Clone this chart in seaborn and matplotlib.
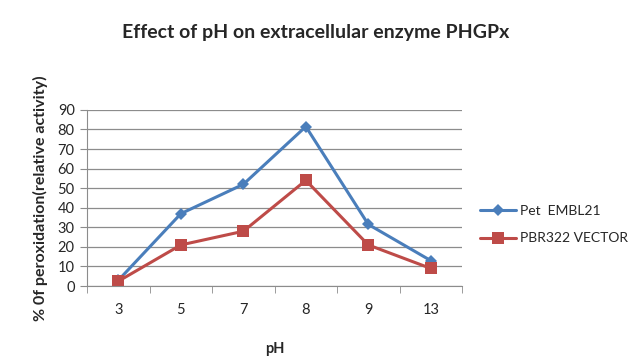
import pandas as pd
import numpy as np
import matplotlib.pyplot as plt
import seaborn as sns
from matplotlib.lines import Line2D

# data
ph = ['3', '5', '7', '8', '9', '13']
pet_embl21 = [3, 37, 52, 81.5, 31.5, 13]
pbr322 = [2.5, 21, 28, 54, 21, 9]
series_names = ['Pet  EMBL21', 'PBR322 VECTOR']

df = pd.DataFrame({
    'pH': ph * 2,
    'val': pet_embl21 + pbr322,
    'series': [series_names[0]] * len(ph) + [series_names[1]] * len(ph),
})

sns.set_style('white')
plt.rcParams['font.family'] = ['Lato', 'DejaVu Sans']

fig = plt.figure(figsize=(6.32, 3.58), dpi=100)
ax = fig.add_axes([0.138, 0.201, 0.593, 0.492])

sns.lineplot(data=df, x='pH', y='val', hue='series', style='series',
             markers=['D', 's'], dashes=False, sort=False,
             palette=['#4a7ebb', '#be4b48'], linewidth=2.2,
             markeredgewidth=0, ax=ax, legend=False)
# marker sizes differ per series
ax.lines[0].set_markersize(6.5)
ax.lines[1].set_markersize(8.5)

ax.set_xlim(-0.5, 5.5)
ax.set_ylim(0, 90)
ax.set_yticks(np.arange(0, 91, 10))
ax.yaxis.grid(True, color='#8c8c8c', linewidth=0.9)
ax.set_axisbelow(True)

for s in ['top', 'right']:
    ax.spines[s].set_visible(False)
ax.spines['left'].set_color('#8c8c8c')
ax.spines['bottom'].set_color('#8c8c8c')

ax.set_xticks(range(len(ph)))
ax.set_xticks(np.arange(-0.5, 5.6, 1), minor=True)
ax.tick_params(axis='x', which='major', length=0, labelsize=10.5, pad=12)
ax.tick_params(axis='x', which='minor', length=5, color='#8c8c8c', direction='out', bottom=True)
ax.tick_params(axis='y', length=5, color='#8c8c8c', direction='out', left=True, labelsize=10.5, pad=4)

ax.set_xlabel('pH', fontsize=10.5, fontweight='bold', labelpad=18)
ax.set_ylabel('% 0f peroxidation(relative activity)', fontsize=11.5, fontweight='bold', labelpad=7)

fig.text(0.5, 0.91, 'Effect of pH on extracellular enzyme PHGPx',
         ha='center', va='center', fontsize=14, fontweight='bold')

handles = [
    Line2D([], [], color='#4a7ebb', marker='D', markersize=6, linewidth=2.2, markeredgewidth=0),
    Line2D([], [], color='#be4b48', marker='s', markersize=8, linewidth=2.2, markeredgewidth=0),
]
fig.legend(handles, series_names, loc='center left', bbox_to_anchor=(0.74, 0.372),
           frameon=False, fontsize=10, handlelength=2.6, labelspacing=1.1,
           handletextpad=0.3)

plt.savefig('out.png', dpi=100)
